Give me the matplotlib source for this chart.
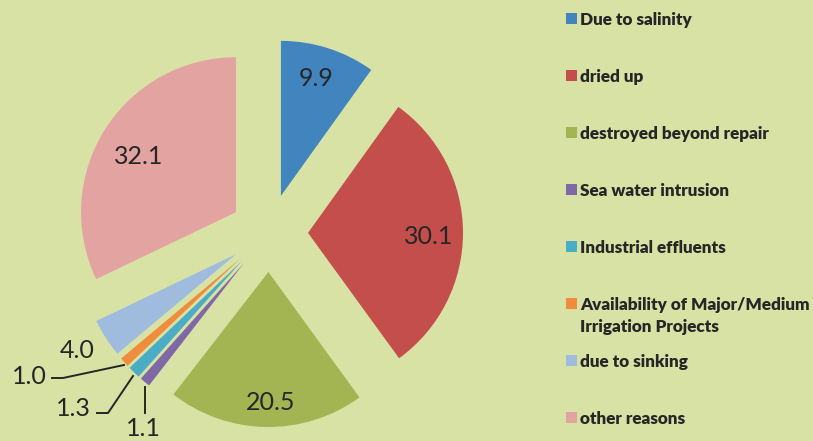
import matplotlib
matplotlib.use("Agg")
import matplotlib.pyplot as plt

categories = ["Due to salinity", "dried up", "destroyed beyond repair",
              "Sea water intrusion", "Industrial effluents",
              "Availability of Major/Medium\nIrrigation Projects",
              "due to sinking", "other reasons"]
values = [9.9, 30.1, 20.5, 1.1, 1.3, 1.0, 4.0, 32.1]
colors = ["#4184be", "#c44e4c", "#a3b552", "#7e68a5", "#4aacc5",
          "#ef8d3d", "#9fbcde", "#e3a3a1"]
bg = "#d8e2a5"
txt = "#262626"

W, H = 813, 441
fig = plt.figure(figsize=(W / 100, H / 100), dpi=100, facecolor=bg)
ax = fig.add_axes([0, 0, 1, 1], facecolor=bg)

cx, cy, r = 269, H - 233, 155
wedges, _ = ax.pie(values, colors=colors, startangle=90, counterclock=False,
                   explode=[39] * len(values), radius=r, center=(cx, cy),
                   wedgeprops=dict(linewidth=0), frame=True)
ax.set_xlim(0, W)
ax.set_ylim(0, H)
ax.set_aspect("auto")
ax.axis("off")

fp = dict(family=["Lato", "DejaVu Sans"], color=txt, fontsize=18)
label_pos = [(316, 78), (429, 236), (271, 403), (143, 428), (73, 408),
             (29, 376), (77, 350), (139, 157)]
for v, (x, y) in zip(values, label_pos):
    ax.text(x, H - y, f"{v:.1f}", ha="center", va="center", **fp)

# leader lines
lines = [[(52, 378), (63, 378), (124, 365)],
         [(97, 413), (108, 413), (133, 376)],
         [(145, 413), (145, 387)]]
for ln in lines:
    ax.plot([p[0] for p in ln], [H - p[1] for p in ln], color=txt, lw=1.4)

# legend
ly0, step = 19, 57
for i, (lab, c) in enumerate(zip(categories, colors)):
    y = ly0 + i * step
    ax.add_patch(plt.Rectangle((566, H - y - 5), 11, 11, facecolor=c, lw=0))
    ax.text(580, H - y + 7, lab, ha="left", va="top", fontsize=12.3,
            fontweight="heavy", color=txt, family=["Lato", "DejaVu Sans"],
            linespacing=1.45)

fig.savefig("out.png", dpi=100, facecolor=bg)
